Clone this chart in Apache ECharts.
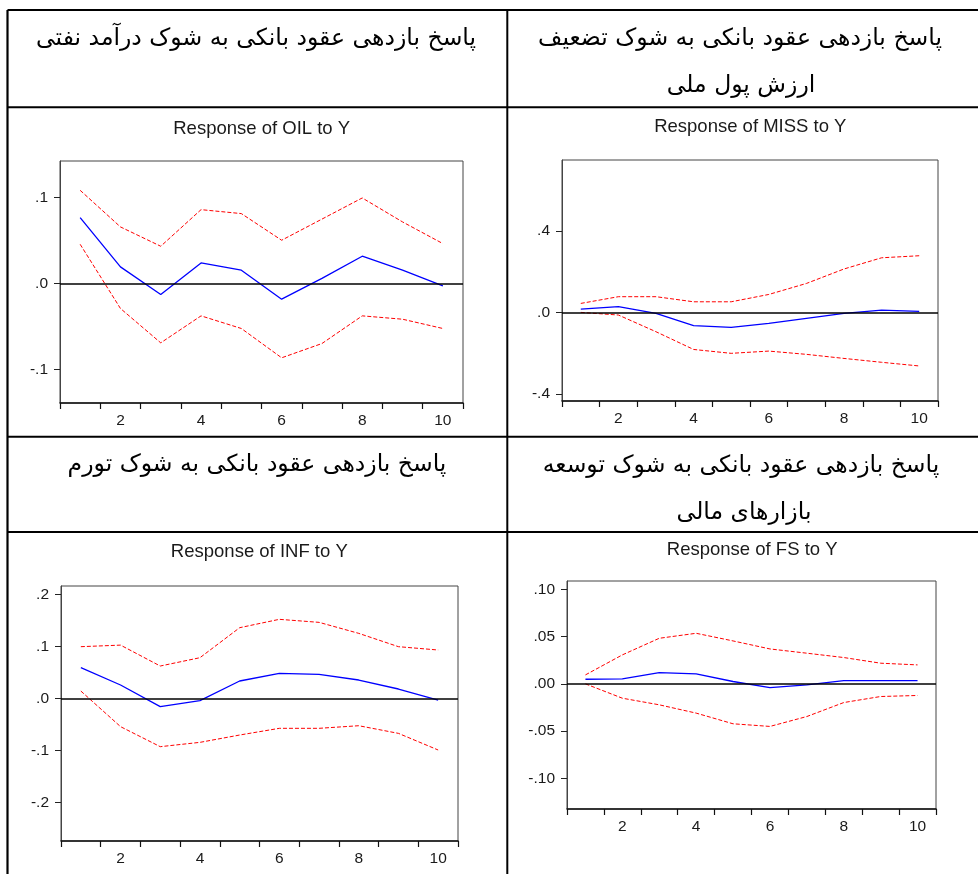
<!DOCTYPE html>
<html><head><meta charset="utf-8">
<script src="https://cdn.jsdelivr.net/npm/echarts@6/dist/echarts.min.js"></script>
<style>html,body{margin:0;padding:0;background:#fff}#c{width:978px;height:874px}</style>
</head><body><div id="c"></div>
<script>
// ---- data ----
const periods = ['1','2','3','4','5','6','7','8','9','10'];

const oilResp  = [0.0767, 0.0194, -0.0128, 0.0240, 0.0155, -0.0182, 0.0060, 0.0318, 0.0155, -0.0027];
const oilUpper = [0.1085, 0.0659, 0.0434, 0.0860, 0.0814, 0.0504, 0.0750, 0.0996, 0.0717, 0.0465];
const oilLower = [0.0457, -0.0290, -0.0690, -0.0376, -0.0523, -0.0864, -0.0698, -0.0376, -0.0415, -0.0523];

const missResp  = [0.016, 0.028, -0.005, -0.065, -0.074, -0.054, -0.029, -0.005, 0.011, 0.005];
const missUpper = [0.044, 0.077, 0.077, 0.052, 0.052, 0.088, 0.142, 0.213, 0.268, 0.278];
const missLower = [0.000, -0.013, -0.095, -0.182, -0.201, -0.190, -0.206, -0.226, -0.245, -0.263];

const infResp  = [0.0596, 0.0263, -0.0154, -0.0038, 0.0340, 0.0487, 0.0468, 0.0359, 0.0186, -0.0026];
const infUpper = [0.1000, 0.1030, 0.0628, 0.0788, 0.1365, 0.1526, 0.1468, 0.1256, 0.1000, 0.0936];
const infLower = [0.0147, -0.0538, -0.0923, -0.0840, -0.0699, -0.0570, -0.0570, -0.0520, -0.0667, -0.0987];

const fsResp  = [0.0049, 0.0053, 0.0120, 0.0106, 0.0025, -0.0039, -0.0010, 0.0035, 0.0035, 0.0035];
const fsUpper = [0.0095, 0.0307, 0.0483, 0.0536, 0.0455, 0.0370, 0.0325, 0.0279, 0.0219, 0.0201];
const fsLower = [0.0000, -0.0152, -0.0222, -0.0310, -0.0423, -0.0451, -0.0346, -0.0198, -0.0134, -0.0123];

const oilTicks = [-0.1, 0, 0.1];          const oilTickLabels = ['-.1', '.0', '.1'];
const missTicks = [-0.4, 0, 0.4];         const missTickLabels = ['-.4', '.0', '.4'];
const infTicks = [-0.2, -0.1, 0, 0.1, 0.2]; const infTickLabels = ['-.2', '-.1', '.0', '.1', '.2'];
const fsTicks = [-0.10, -0.05, 0, 0.05, 0.10]; const fsTickLabels = ['-.10', '-.05', '.00', '.05', '.10'];

const titles = ['Response of OIL to Y', 'Response of MISS to Y', 'Response of INF to Y', 'Response of FS to Y'];
const headerOil = 'پاسخ بازدهی عقود بانکی به شوک درآمد نفتی';
const headerMiss1 = 'پاسخ بازدهی عقود بانکی به شوک تضعیف';
const headerMiss2 = 'ارزش پول ملی';
const headerInf = 'پاسخ بازدهی عقود بانکی به شوک تورم';
const headerFs1 = 'پاسخ بازدهی عقود بانکی به شوک توسعه';
const headerFs2 = 'بازارهای مالی';

// ---- layout ----
const panels = [
  {grid:{left:60, top:161, width:403, height:242}, min:-0.139, max:0.1426, ticks:oilTicks, labels:oilTickLabels,
   resp:oilResp, up:oilUpper, lo:oilLower, title:{x:261.7, y:119}},
  {grid:{left:562, top:160, width:376, height:241}, min:-0.435, max:0.748, ticks:missTicks, labels:missTickLabels,
   resp:missResp, up:missUpper, lo:missLower, title:{x:750.3, y:117.5}},
  {grid:{left:61, top:586, width:397, height:255}, min:-0.2737, max:0.2167, ticks:infTicks, labels:infTickLabels,
   resp:infResp, up:infUpper, lo:infLower, title:{x:259.3, y:542.5}},
  {grid:{left:567, top:581, width:369, height:228}, min:-0.1326, max:0.109, ticks:fsTicks, labels:fsTickLabels,
   resp:fsResp, up:fsUpper, lo:fsLower, title:{x:752.2, y:540.5}}
];

const option = {animation:false, backgroundColor:'#fff', title:[], grid:[], xAxis:[], yAxis:[], series:[], graphic:[]};
const FONT = '"Liberation Sans", Arial, sans-serif';

panels.forEach((p, i) => {
  option.title.push({text:titles[i], left:p.title.x, top:p.title.y, textAlign:'center', padding:0,
    textStyle:{fontFamily:FONT, fontSize:18.5, fontWeight:'normal', color:'#1a1a1a', lineHeight:19}});
  option.grid.push(Object.assign({show:true, borderColor:'#444', borderWidth:1, backgroundColor:'transparent', containLabel:false}, p.grid));
  option.xAxis.push({type:'category', gridIndex:i, data:periods, boundaryGap:true,
    axisLine:{show:true, onZero:false, lineStyle:{color:'#111', width:1.5}},
    axisTick:{show:true, interval:0, length:6, inside:false, lineStyle:{color:'#111', width:1.2}},
    axisLabel:{interval:(idx)=>idx % 2 === 1, fontFamily:FONT, fontSize:15.5, color:'#1a1a1a', margin:10},
    splitLine:{show:false}});
  const ticks = p.ticks, labels = p.labels;
  option.yAxis.push({type:'value', gridIndex:i, min:p.min, max:p.max,
    axisLine:{show:true, onZero:false, lineStyle:{color:'#444', width:1}},
    axisTick:{show:true, customValues:ticks, length:6, inside:false, lineStyle:{color:'#222', width:1}},
    axisLabel:{customValues:ticks, fontFamily:FONT, fontSize:15.5, color:'#1a1a1a', margin:12,
      formatter:(v)=>{ for (let k=0;k<ticks.length;k++){ if (Math.abs(ticks[k]-v)<1e-9) return labels[k]; } return ''; }},
    splitLine:{show:false}});
  option.series.push({type:'line', xAxisIndex:i, yAxisIndex:i, data:p.up, symbol:'none', silent:true, z:3,
    lineStyle:{color:'#ff0000', width:1, type:[4,2]}});
  option.series.push({type:'line', xAxisIndex:i, yAxisIndex:i, data:p.lo, symbol:'none', silent:true, z:3,
    lineStyle:{color:'#ff0000', width:1, type:[4,2]}});
  option.series.push({type:'line', xAxisIndex:i, yAxisIndex:i, data:p.resp, symbol:'none', silent:true, z:4,
    lineStyle:{color:'#0000ff', width:1.3, type:'solid'},
    markLine:{silent:true, symbol:['none','none'], label:{show:false}, animation:false,
      lineStyle:{color:'#000', width:1.5, type:'solid'}, data:[{yAxis:0}]}});
});

// ---- table borders ----
const L = (x1,y1,x2,y2,w) => ({type:'line', silent:true, shape:{x1,y1,x2,y2}, style:{stroke:'#000', lineWidth:w||2}});
option.graphic.push(L(7.5,10,978,10,2.2));
option.graphic.push(L(7.5,10,7.5,874,2.2));
option.graphic.push(L(507.3,10,507.3,874,2));
option.graphic.push(L(7.5,107.3,978,107.3,2));
option.graphic.push(L(7.5,436.7,978,436.7,2));
option.graphic.push(L(7.5,532,978,532,2));

// ---- Persian headers ----
const T = (text,x,y) => ({type:'text', silent:true, x, y, style:{text, fontFamily:'"DejaVu Sans", sans-serif', fontSize:23.5,
  fill:'#000', align:'center', verticalAlign:'middle'}});
option.graphic.push(T(headerOil, 256, 39));
option.graphic.push(T(headerMiss1, 740, 39));
option.graphic.push(T(headerMiss2, 741, 86));
option.graphic.push(T(headerInf, 257, 465));
option.graphic.push(T(headerFs1, 741, 466));
option.graphic.push(T(headerFs2, 744, 513));

const chart = echarts.init(document.getElementById('c'), null, {renderer:'canvas'});
chart.setOption(option);
</script></body></html>
